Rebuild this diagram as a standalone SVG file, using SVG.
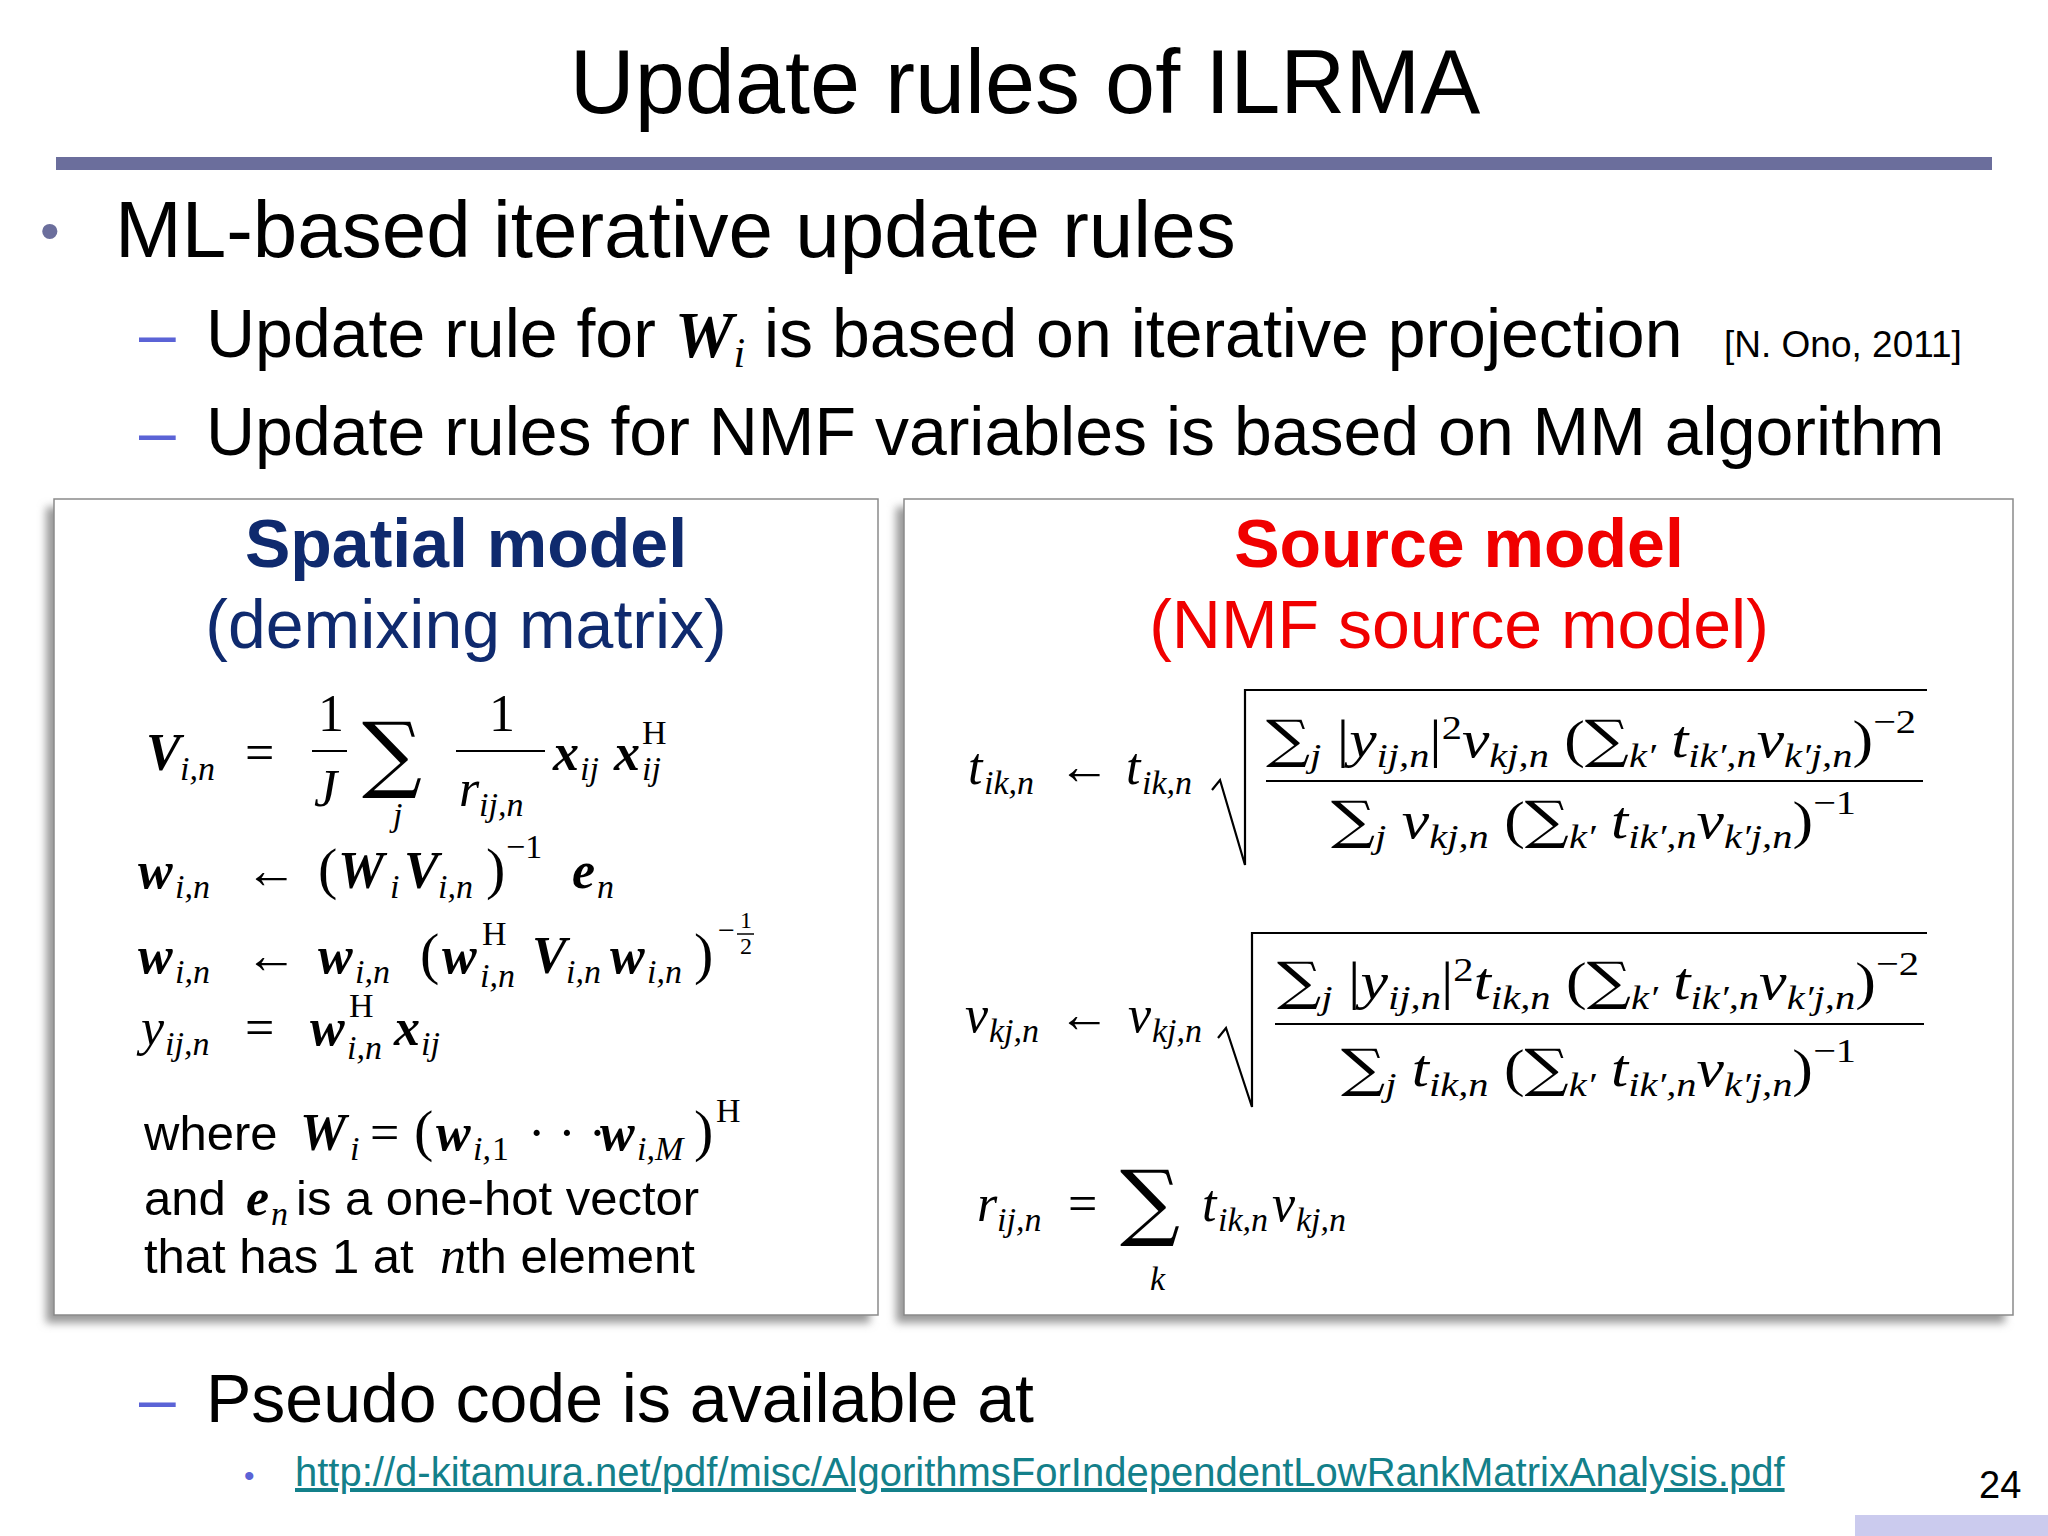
<svg xmlns="http://www.w3.org/2000/svg" width="2048" height="1536" viewBox="0 0 2048 1536">
<defs>
<filter id="sh" x="-5%" y="-5%" width="110%" height="110%"><feGaussianBlur stdDeviation="4"/></filter>
<style>
.t{font-family:"Liberation Sans",Arial,sans-serif;fill:#000}
.m{font-family:"Liberation Serif","DejaVu Serif",serif;font-style:italic;font-size:52px;fill:#000}
.b{font-weight:bold}
.u{font-style:normal}
.s{font-size:34px}
.op{font-family:"DejaVu Serif",serif;font-style:normal}
.box{fill:#fff;stroke:#8a8a8a;stroke-width:1.5}
.shd{fill:#9a9a9a;filter:url(#sh)}
.ln{stroke:#000;stroke-width:2.2;fill:none}
.dash{fill:#5b63d6;font-family:"Liberation Sans",Arial,sans-serif}
</style>
</defs>
<rect width="2048" height="1536" fill="#fff"/>
<g id="title">
<text class="t" x="1025" y="113" style="font-size:90px" text-anchor="middle">Update rules of ILRMA</text>
<rect x="56" y="157" width="1936" height="13" fill="#6b6e9c"/>
</g>
<g id="bullets">
<text x="40" y="250" font-size="56" fill="#6b6e9c" font-family="Liberation Sans,sans-serif">•</text>
<text class="t" x="115" y="257" font-size="80">ML-based iterative update rules</text>
<text class="dash" x="139" y="357" font-size="66">–</text>
<text class="t" x="206" y="357" font-size="68">Update rule for <tspan class="m b" style="font-size:66px">W</tspan><tspan class="m" style="font-size:42px" dy="10">i</tspan><tspan dy="-10"> is based on iterative projection</tspan></text>
<text class="t" x="1724" y="357" font-size="37">[N. Ono, 2011]</text>
<text class="dash" x="139" y="455" font-size="66">–</text>
<text class="t" x="206" y="455" font-size="68">Update rules for NMF variables is based on MM algorithm</text>
<text class="dash" x="139" y="1422" font-size="66">–</text>
<text class="t" x="206" y="1422" font-size="68">Pseudo code is available at</text>
<text x="244" y="1486" font-size="30" fill="#5b63d6" font-family="Liberation Sans,sans-serif">•</text>
<text x="295" y="1486" font-size="40" fill="#13808a" font-family="Liberation Sans,sans-serif" text-decoration="underline">http://d-kitamura.net/pdf/misc/AlgorithmsForIndependentLowRankMatrixAnalysis.pdf</text>
<text class="t" x="1979" y="1498" font-size="38">24</text>
<rect x="1855" y="1515" width="193" height="21" fill="#cbcbee"/>
</g>
<g id="spatial">
<rect class="shd" x="46" y="507" width="824" height="816"/>
<rect class="box" x="54" y="499" width="824" height="816"/>
<text x="466" y="567" font-size="68" font-weight="bold" fill="#0f2a6e" text-anchor="middle" font-family="Liberation Sans,sans-serif">Spatial model</text>
<text x="466" y="648" font-size="68" fill="#0f2a6e" text-anchor="middle" font-family="Liberation Sans,sans-serif">(demixing matrix)</text>
<!-- line 1 -->
<text class="m b" x="146" y="770">V</text><text class="m s" x="180" y="780">i,n</text>
<text class="m u" x="245" y="770">=</text>
<text class="m u" x="318" y="731">1</text><line class="ln" x1="312" y1="751" x2="347" y2="751"/><text class="m" x="314" y="806">J</text>
<text class="m op" x="362" y="782" style="font-size:84px">∑</text><text class="m s" x="393" y="826">j</text>
<text class="m u" x="489" y="731">1</text><line class="ln" x1="456" y1="751" x2="545" y2="751"/><text class="m" x="459" y="806">r</text><text class="m s" x="479" y="816">ij,n</text>
<text class="m b" x="553" y="770">x</text><text class="m s" x="580" y="780">ij</text>
<text class="m b" x="614" y="770">x</text><text class="m s" x="642" y="780">ij</text><text class="m s u" x="642" y="744">H</text>
<!-- line 2 -->
<text class="m b" x="138" y="888">w</text><text class="m s" x="175" y="898">i,n</text>
<text class="m u" x="245" y="888">←</text>
<text class="m u" x="318" y="888" style="font-size:58px">(</text>
<text class="m b" x="338" y="888">W</text><text class="m s" x="390" y="898">i</text>
<text class="m b" x="404" y="888">V</text><text class="m s" x="438" y="898">i,n</text>
<text class="m u" x="486" y="888" style="font-size:58px">)</text>
<text class="m s u" x="506" y="858">−1</text>
<text class="m b" x="572" y="888">e</text><text class="m s" x="597" y="898">n</text>
<!-- line 3 -->
<text class="m b" x="138" y="973">w</text><text class="m s" x="175" y="983">i,n</text>
<text class="m u" x="245" y="973">←</text>
<text class="m b" x="318" y="973">w</text><text class="m s" x="355" y="983">i,n</text>
<text class="m u" x="420" y="973" style="font-size:58px">(</text>
<text class="m b" x="442" y="973">w</text><text class="m s" x="480" y="987">i,n</text><text class="m s u" x="482" y="945">H</text>
<text class="m b" x="532" y="973">V</text><text class="m s" x="566" y="983">i,n</text>
<text class="m b" x="610" y="973">w</text><text class="m s" x="647" y="983">i,n</text>
<text class="m u" x="694" y="973" style="font-size:58px">)</text>
<text class="m u" x="718" y="940" style="font-size:30px">−</text>
<text class="m u" x="740" y="928" style="font-size:24px">1</text><line x1="737" y1="934" x2="754" y2="934" stroke="#000" stroke-width="1.5"/><text class="m u" x="740" y="954" style="font-size:24px">2</text>
<!-- line 4 -->
<text class="m" x="141" y="1045">y</text><text class="m s" x="165" y="1055">ij,n</text>
<text class="m u" x="245" y="1045">=</text>
<text class="m b" x="310" y="1045">w</text><text class="m s" x="347" y="1059">i,n</text><text class="m s u" x="349" y="1017">H</text>
<text class="m b" x="394" y="1045">x</text><text class="m s" x="421" y="1055">ij</text>
<!-- text lines -->
<text class="t" x="144" y="1150" font-size="49">where</text>
<text class="m b" x="300" y="1150">W</text><text class="m s" x="350" y="1160">i</text>
<text class="m u" x="370" y="1150">=</text>
<text class="m u" x="414" y="1150" style="font-size:58px">(</text>
<text class="m b" x="436" y="1150">w</text><text class="m s" x="473" y="1160">i,</text><text class="m s u" x="492" y="1160">1</text>
<text class="m u" x="528" y="1150">· · ·</text>
<text class="m b" x="600" y="1150">w</text><text class="m s" x="637" y="1160">i,M</text>
<text class="m u" x="694" y="1150" style="font-size:58px">)</text>
<text class="m s u" x="716" y="1122">H</text>
<text class="t" x="144" y="1215" font-size="49">and</text>
<text class="m b" x="246" y="1215">e</text><text class="m s" x="271" y="1225">n</text>
<text class="t" x="296" y="1215" font-size="49"> is a one-hot vector</text>
<text class="t" x="144" y="1273" font-size="49">that has 1 at</text>
<text class="m" x="440" y="1273">n</text>
<text class="t" x="466" y="1273" font-size="49">th element</text>
</g>
<g id="source">
<rect class="shd" x="896" y="507" width="1109" height="816"/>
<rect class="box" x="904" y="499" width="1109" height="816"/>
<text x="1459" y="567" font-size="68" font-weight="bold" fill="#f00000" text-anchor="middle" font-family="Liberation Sans,sans-serif">Source model</text>
<text x="1459" y="648" font-size="68" fill="#f00000" text-anchor="middle" font-family="Liberation Sans,sans-serif">(NMF source model)</text>
<!-- t eq -->
<text class="m" x="968" y="784">t</text><text class="m s" x="984" y="794">ik,n</text>
<text class="m u" x="1058" y="784">←</text>
<text class="m" x="1126" y="784">t</text><text class="m s" x="1142" y="794">ik,n</text>
<polyline class="ln" points="1212,790 1220,780 1245,865 1245,690 1927,690"/>
<text class="m" x="1266" y="757" textLength="650" lengthAdjust="spacingAndGlyphs"><tspan class="op">∑</tspan><tspan class="s" dy="10">j</tspan><tspan dy="-10" class="u"> |</tspan><tspan>y</tspan><tspan class="s" dy="10">ij,n</tspan><tspan dy="-10" class="u">|</tspan><tspan class="s u" dy="-18">2</tspan><tspan dy="18">v</tspan><tspan class="s" dy="10">kj,n</tspan><tspan dy="-10" class="u"> (</tspan><tspan class="op">∑</tspan><tspan class="s" dy="10">k′</tspan><tspan dy="-10"> t</tspan><tspan class="s" dy="10">ik′,n</tspan><tspan dy="-10">v</tspan><tspan class="s" dy="10">k′j,n</tspan><tspan dy="-10" class="u">)</tspan><tspan class="s u" dy="-24">−2</tspan></text>
<line class="ln" x1="1266" y1="781" x2="1923" y2="781"/>
<text class="m" x="1331" y="838" textLength="525" lengthAdjust="spacingAndGlyphs"><tspan class="op">∑</tspan><tspan class="s" dy="10">j</tspan><tspan dy="-10"> v</tspan><tspan class="s" dy="10">kj,n</tspan><tspan dy="-10" class="u"> (</tspan><tspan class="op">∑</tspan><tspan class="s" dy="10">k′</tspan><tspan dy="-10"> t</tspan><tspan class="s" dy="10">ik′,n</tspan><tspan dy="-10">v</tspan><tspan class="s" dy="10">k′j,n</tspan><tspan dy="-10" class="u">)</tspan><tspan class="s u" dy="-24">−1</tspan></text>
<!-- v eq -->
<text class="m" x="965" y="1032">v</text><text class="m s" x="989" y="1042">kj,n</text>
<text class="m u" x="1058" y="1032">←</text>
<text class="m" x="1128" y="1032">v</text><text class="m s" x="1152" y="1042">kj,n</text>
<polyline class="ln" points="1218,1038 1226,1028 1252,1107 1252,933 1927,933"/>
<text class="m" x="1277" y="999" textLength="642" lengthAdjust="spacingAndGlyphs"><tspan class="op">∑</tspan><tspan class="s" dy="10">j</tspan><tspan dy="-10" class="u"> |</tspan><tspan>y</tspan><tspan class="s" dy="10">ij,n</tspan><tspan dy="-10" class="u">|</tspan><tspan class="s u" dy="-18">2</tspan><tspan dy="18">t</tspan><tspan class="s" dy="10">ik,n</tspan><tspan dy="-10" class="u"> (</tspan><tspan class="op">∑</tspan><tspan class="s" dy="10">k′</tspan><tspan dy="-10"> t</tspan><tspan class="s" dy="10">ik′,n</tspan><tspan dy="-10">v</tspan><tspan class="s" dy="10">k′j,n</tspan><tspan dy="-10" class="u">)</tspan><tspan class="s u" dy="-24">−2</tspan></text>
<line class="ln" x1="1275" y1="1024" x2="1924" y2="1024"/>
<text class="m" x="1341" y="1086" textLength="515" lengthAdjust="spacingAndGlyphs"><tspan class="op">∑</tspan><tspan class="s" dy="10">j</tspan><tspan dy="-10"> t</tspan><tspan class="s" dy="10">ik,n</tspan><tspan dy="-10" class="u"> (</tspan><tspan class="op">∑</tspan><tspan class="s" dy="10">k′</tspan><tspan dy="-10"> t</tspan><tspan class="s" dy="10">ik′,n</tspan><tspan dy="-10">v</tspan><tspan class="s" dy="10">k′j,n</tspan><tspan dy="-10" class="u">)</tspan><tspan class="s u" dy="-24">−1</tspan></text>
<!-- r eq -->
<text class="m" x="977" y="1221">r</text><text class="m s" x="997" y="1231">ij,n</text>
<text class="m u" x="1068" y="1221">=</text>
<text class="m op" x="1120" y="1230" style="font-size:84px">∑</text><text class="m s" x="1150" y="1290">k</text>
<text class="m" x="1202" y="1221">t</text><text class="m s" x="1218" y="1231">ik,n</text>
<text class="m" x="1272" y="1221">v</text><text class="m s" x="1296" y="1231">kj,n</text>
</g>
</svg>
